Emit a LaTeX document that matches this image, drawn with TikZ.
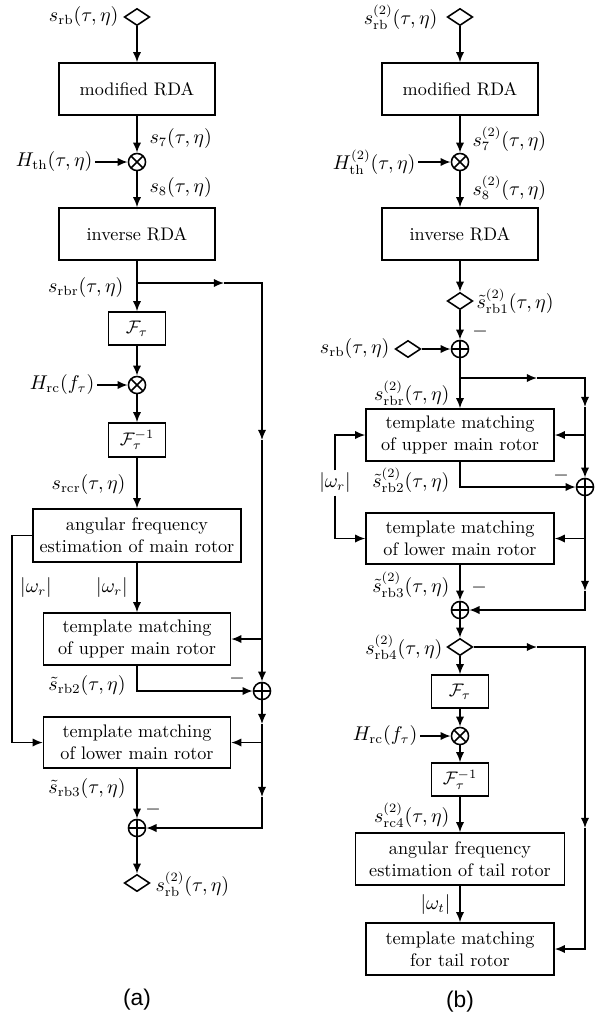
\documentclass[tikz,border=0pt]{standalone}
\usepackage{fontspec}
\newfontfamily\capfont{Liberation Sans}
\usetikzlibrary{arrows.meta,shapes.geometric}
\tikzset{
  >={Latex[length=5.6pt,width=4.6pt]},
  blk/.style 2 args={draw,rectangle,inner sep=0pt,align=center,minimum width=#1,minimum height=#2},
  mult/.style={circle,draw,inner sep=0pt,minimum size=9.4pt,
    path picture={\draw (path picture bounding box.north west)--(path picture bounding box.south east)
      (path picture bounding box.north east)--(path picture bounding box.south west);}},
  add/.style={circle,draw,inner sep=0pt,minimum size=9.4pt,
    path picture={\draw (path picture bounding box.north)--(path picture bounding box.south)
      (path picture bounding box.east)--(path picture bounding box.west);}},
  dia/.style={diamond,draw,inner sep=0pt,minimum width=14pt,minimum height=9.4pt},
  lbl/.style={inner sep=1pt,font=\fontsize{10.5}{12}\selectfont},
  captxt/.style={inner sep=1pt,font=\capfont\fontsize{12.5}{15}\selectfont},
}
\begin{document}
\begin{tikzpicture}[x=0.55pt,y=-0.55pt,line width=0.85pt]
\useasboundingbox (0,0) rectangle (611,1020);
% ---------------- (a)
\node[dia] (dA1) at (137,17) {};
\node[lbl,anchor=east] (inA) at (121,17) {$s_{\mathrm{rb}}(\tau,\eta)$};
\node[blk={85.8pt}{28.6pt}] (modA) at (137,89) {modified RDA};
\node[mult] (oxA) at (137,162) {};
\node[lbl,anchor=west] (s7A) at (147,139) {$s_7(\tau,\eta)$};
\node[lbl,anchor=east] (hthA) at (95,162) {$H_{\mathrm{th}}(\tau,\eta)$};
\node[lbl,anchor=west] (s8A) at (147,188) {$s_8(\tau,\eta)$};
\node[blk={85.8pt}{28.6pt}] (invA) at (137,234) {inverse RDA};
\coordinate (brA) at (137,283);
\coordinate (aA1) at (224,283);
\coordinate (rA1) at (262,283);
\coordinate (aA2) at (262,440);
\coordinate (tA1) at (262,639);
\coordinate (aA3) at (262,724);
\coordinate (tA2) at (262,742.5);
\coordinate (aA4) at (262,797);
\coordinate (rA2) at (262,828);
\coordinate (kA) at (137,691);
\coordinate (lA2) at (12,742.5);
\node[lbl,anchor=east] (srbrA) at (126,288) {$s_{\mathrm{rbr}}(\tau,\eta)$};
\node[blk={31.35pt}{18.15pt}] (F1A) at (137,328.5) {$\mathcal{F}_\tau$};
\node[mult] (ox2A) at (137,385) {};
\node[lbl,anchor=east] (hrcA) at (97,385) {$H_{\mathrm{rc}}(f_\tau)$};
\node[blk={31.35pt}{18.7pt}] (Fi1A) at (137,440) {$\mathcal{F}_\tau^{-1}$};
\node[lbl,anchor=east] (srcrA) at (128,485) {$s_{\mathrm{rcr}}(\tau,\eta)$};
\node[blk={114.4pt}{29.15pt}] (angA) at (137,535.5) {angular frequency\\estimation of main rotor};
\node[lbl] (wA1) at (36,588) {$|\omega_r|$};
\node[lbl] (wA2) at (112,588) {$|\omega_r|$};
\node[blk={102.85pt}{28.6pt}] (upA) at (137,639) {template matching\\of upper main rotor};
\node[lbl] (s2A) at (87,686) {$\tilde{s}_{\mathrm{rb2}}(\tau,\eta)$};
\node[add] (pA1) at (262,691) {};
\node[lbl] (mA1) at (237,679) {$-$};
\node[blk={102.85pt}{28.05pt}] (loA) at (137,742.5) {template matching\\of lower main rotor};
\node[lbl] (s3A) at (87,789) {$\tilde{s}_{\mathrm{rb3}}(\tau,\eta)$};
\node[add] (pA2) at (137,828) {};
\node[lbl] (mA2) at (153,810) {$-$};
\node[dia] (dA2) at (137,883) {};
\node[lbl,anchor=west] (outA) at (153,884) {$s^{(2)}_{\mathrm{rb}}(\tau,\eta)$};
\node[captxt] (capA) at (137,1000) {(a)};
\draw[->] (dA1) -- (modA);
\draw[->] (modA) -- (oxA);
\draw[->] (hthA) -- (oxA);
\draw[->] (oxA) -- (invA);
\draw[->] (invA) -- (F1A);
\draw[->] (brA) -- (aA1);
\draw[->] (aA1) -- (rA1) -- (aA2);
\draw[->] (aA2) -- (pA1);
\draw[->] (tA1) -- (upA.east);
\draw[->] (F1A) -- (ox2A);
\draw[->] (hrcA) -- (ox2A);
\draw[->] (ox2A) -- (Fi1A);
\draw[->] (Fi1A) -- (angA);
\draw[->] (angA) -- (upA);
\draw[->] (angA.west) -| (lA2) -- (loA.west);
\draw[->] (upA) -- (kA) -- (pA1);
\draw[->] (pA1) -- (aA3);
\draw[->] (aA3) -- (aA4);
\draw[->] (aA4) -- (rA2) -- (pA2);
\draw[->] (tA2) -- (loA.east);
\draw[->] (loA) -- (pA2);
\draw[->] (pA2) -- (dA2);
% ---------------- (b)
\node[dia] (dB1) at (460,17) {};
\node[lbl,anchor=east] (inB) at (440,17) {$s^{(2)}_{\mathrm{rb}}(\tau,\eta)$};
\node[blk={85.8pt}{28.6pt}] (modB) at (460,89) {modified RDA};
\node[mult] (oxB) at (460,162) {};
\node[lbl,anchor=west] (s7B) at (470,139) {$s^{(2)}_7(\tau,\eta)$};
\node[lbl,anchor=east] (hthB) at (418,162) {$H^{(2)}_{\mathrm{th}}(\tau,\eta)$};
\node[lbl,anchor=west] (s8B) at (470,188) {$s^{(2)}_8(\tau,\eta)$};
\node[blk={85.8pt}{28.6pt}] (invB) at (460,234) {inverse RDA};
\node[dia] (dB2) at (460,301) {};
\node[lbl,anchor=west] (s1B) at (474,301) {$\tilde{s}^{(2)}_{\mathrm{rb1}}(\tau,\eta)$};
\node[add] (pB1) at (460,349) {};
\node[lbl] (mB1) at (480,332) {$-$};
\node[dia] (dB3) at (408,349) {};
\node[lbl,anchor=east] (srbB) at (392,349) {$s_{\mathrm{rb}}(\tau,\eta)$};
\coordinate (brB) at (460,378);
\coordinate (aB1) at (537,378);
\coordinate (rB1) at (585,378);
\coordinate (aB2) at (585,407);
\coordinate (tB1) at (585,435);
\node[lbl,anchor=east] (srbrB) at (452,393) {$s^{(2)}_{\mathrm{rbr}}(\tau,\eta)$};
\node[blk={103.4pt}{28.6pt}] (upB) at (460,435) {template matching\\of upper main rotor};
\node[lbl,fill=white] (wB) at (335,483) {$|\omega_r|$};
\node[lbl,anchor=east] (s2B) at (452,480) {$\tilde{s}^{(2)}_{\mathrm{rb2}}(\tau,\eta)$};
\coordinate (kB) at (460,487);
\node[add] (pB2) at (585,487) {};
\node[lbl] (mB2) at (561,476) {$-$};
\node[blk={103.4pt}{28.05pt}] (loB) at (460,538.5) {template matching\\of lower main rotor};
\coordinate (tB2) at (585,538.5);
\coordinate (aB3) at (585,591);
\coordinate (rB2) at (585,610);
\node[lbl,anchor=east] (s3B) at (452,585) {$\tilde{s}^{(2)}_{\mathrm{rb3}}(\tau,\eta)$};
\node[lbl] (mB3) at (479,588) {$-$};
\node[add] (pB3) at (460,610) {};
\node[dia] (dB4) at (460,647) {};
\node[lbl,anchor=east] (s4B) at (445,647) {$s^{(2)}_{\mathrm{rb4}}(\tau,\eta)$};
\coordinate (aB4) at (537,647);
\coordinate (rB3) at (585,647);
\coordinate (aB5) at (585,828);
\coordinate (rB4) at (585,949);
\node[blk={31.35pt}{18.15pt}] (F2B) at (460,691.5) {$\mathcal{F}_\tau$};
\node[mult] (oxB2) at (460,736) {};
\node[lbl,anchor=east] (hrcB) at (420,736) {$H_{\mathrm{rc}}(f_\tau)$};
\node[blk={31.35pt}{18.15pt}] (Fi2B) at (460,779.5) {$\mathcal{F}_\tau^{-1}$};
\node[lbl,anchor=east] (s5B) at (452,815) {$s^{(2)}_{\mathrm{rc4}}(\tau,\eta)$};
\node[blk={115pt}{28.6pt}] (angB) at (460,859) {angular frequency\\estimation of tail rotor};
\node[lbl,anchor=east] (wtB) at (453,905) {$|\omega_t|$};
\node[blk={103.4pt}{28.6pt}] (tailB) at (460,949) {template matching\\for tail rotor};
\node[captxt] (capB) at (460,1002) {(b)};
\draw[->] (dB1) -- (modB);
\draw[->] (modB) -- (oxB);
\draw[->] (hthB) -- (oxB);
\draw[->] (oxB) -- (invB);
\draw[->] (invB) -- (dB2);
\draw[->] (dB2) -- (pB1);
\draw[->] (dB3) -- (pB1);
\draw[->] (pB1) -- (upB);
\draw[->] (brB) -- (aB1);
\draw[->] (aB1) -- (rB1) -- (aB2);
\draw[->] (aB2) -- (pB2);
\draw[->] (tB1) -- (upB.east);
\draw[->] (upB) -- (kB) -- (pB2);
\draw[->] (wB) |- (upB.west);
\draw[->] (wB) |- (loB.west);
\draw[->] (pB2) -- (aB3);
\draw[->] (aB3) -- (rB2) -- (pB3);
\draw[->] (tB2) -- (loB.east);
\draw[->] (loB) -- (pB3);
\draw[->] (pB3) -- (dB4);
\draw[->] (dB4) -- (aB4);
\draw[->] (aB4) -- (rB3) -- (aB5);
\draw[->] (aB5) -- (rB4) -- (tailB.east);
\draw[->] (dB4) -- (F2B);
\draw[->] (F2B) -- (oxB2);
\draw[->] (hrcB) -- (oxB2);
\draw[->] (oxB2) -- (Fi2B);
\draw[->] (Fi2B) -- (angB);
\draw[->] (angB) -- (tailB);
\end{tikzpicture}
\end{document}
